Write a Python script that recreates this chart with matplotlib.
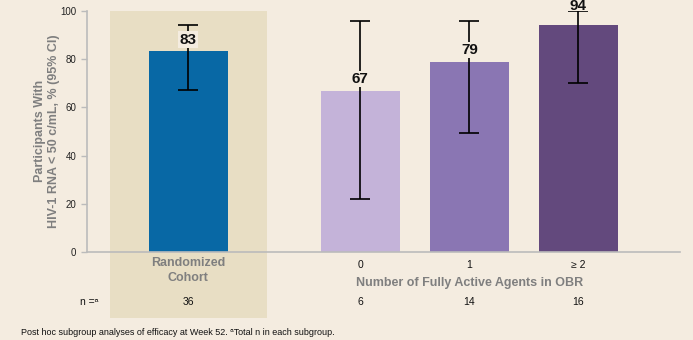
import matplotlib.pyplot as plt
from matplotlib.patches import Rectangle

plt.rcParams['font.family'] = ['Liberation Sans', 'DejaVu Sans']

groups = ['Randomized\nCohort', '0', '1', '\u2265 2']
pct = [83.3, 66.9, 78.8, 94.2]
pct_labels = ['83', '67', '79', '94']
ci_low = [67.3, 22.1, 49.2, 70.0]
ci_high = [94.1, 96.0, 95.6, 100.0]
n_total = ['36', '6', '14', '16']

bg = '#F4ECE0'
panel = '#E8DEC4'
colors = ['#0868A5', '#C4B3D9', '#8A76B3', '#63497D']
gray = '#7F7F7F'

xpos = [0, 1.58, 2.58, 3.58]
width = 0.725

fig = plt.figure(figsize=(6.93, 3.4), dpi=100, facecolor=bg)
ax = fig.add_axes([0.125, 0.259, 0.856, 0.709])
ax.set_facecolor(bg)

# shaded band behind the randomized cohort, running down past the n row
ax.add_patch(Rectangle((-0.72, -27.5), 1.44, 127.5, facecolor=panel,
                       edgecolor='none', clip_on=False, zorder=0))

ax.bar(xpos, pct, width=width, color=colors, zorder=2)
yerr = [[p - lo for p, lo in zip(pct, ci_low)],
        [hi - p for p, hi in zip(pct, ci_high)]]
ax.errorbar(xpos, pct, yerr=yerr, fmt='none', ecolor='black',
            elinewidth=1.2, capsize=7, capthick=1.2, zorder=3)

for x, p, hi, lab in zip(xpos, pct, ci_high, pct_labels):
    if hi - p < 10:
        # short interval: put the value above the cap
        ax.text(x, hi + 2.1, lab, ha='center', va='center', fontsize=11,
                fontweight='bold', color='#111111', zorder=4, clip_on=False)
    else:
        ax.text(x, p + 4.8, lab, ha='center', va='center', fontsize=11,
                fontweight='bold', color='#111111', zorder=4,
                bbox=dict(facecolor=bg, edgecolor='none', pad=0.8))

ax.set_xlim(-0.93, 4.51)
ax.set_ylim(0, 100)
ax.set_yticks([0, 20, 40, 60, 80, 100])
ax.tick_params(axis='y', labelsize=7, colors='#BBBBBB', labelcolor='#222222',
               length=4, width=1)
ax.set_xticks([])
for s in ['top', 'right']:
    ax.spines[s].set_visible(False)
ax.spines['left'].set_color('#BBBBBB')
ax.spines['bottom'].set_color('#BBBBBB')
ax.spines['left'].set_linewidth(1.2)
ax.spines['bottom'].set_linewidth(1.2)

ax.set_ylabel('Participants With\nHIV-1 RNA < 50 c/mL, % (95% CI)',
              fontsize=9, fontweight='bold', color=gray,
              linespacing=1.25)
ax.yaxis.set_label_coords(-0.045, 0.5)

# category labels under the axis
ax.text(xpos[0], -2.3, groups[0], ha='center', va='top', fontsize=9,
        fontweight='bold', color=gray, linespacing=1.3)
for x, g in zip(xpos[1:], groups[1:]):
    ax.text(x, -3.2, g, ha='center', va='top', fontsize=7.5, color='#111111')
ax.text(xpos[2], -10.3, 'Number of Fully Active Agents in OBR', ha='center',
        va='top', fontsize=9, fontweight='bold', color=gray)

# n row
ax.text(-0.72 - 0.1, -20.7, 'n =\u1d43', ha='right', va='center',
        fontsize=7.5, color='#111111')
for x, n in zip(xpos, n_total):
    ax.text(x, -20.7, n, ha='center', va='center', fontsize=7.5,
            color='#111111')

fig.text(0.03, 0.021, 'Post hoc subgroup analyses of efficacy at Week 52. '
         '\u1d43Total n in each subgroup.', fontsize=6.5, color='#111111',
         va='center')

fig.savefig('out.png', dpi=100, facecolor=bg)
